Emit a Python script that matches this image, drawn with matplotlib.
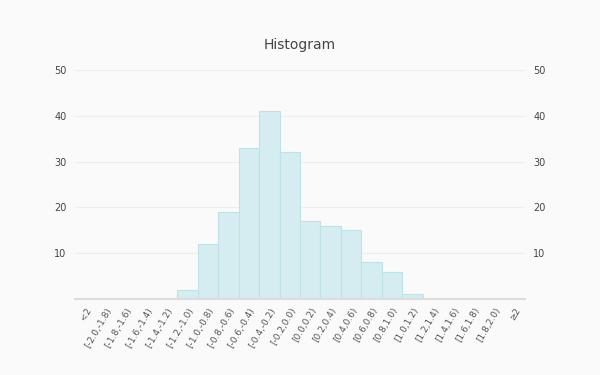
import numpy as np
import matplotlib.pyplot as plt

categories = ['<2', '[-2.0,-1.8)', '[-1.8,-1.6)', '[-1.6,-1.4)', '[-1.4,-1.2)',
              '[-1.2,-1.0)', '[-1.0,-0.8)', '[-0.8,-0.6)', '[-0.6,-0.4)',
              '[-0.4,-0.2)', '[-0.2,0.0)', '[0.0,0.2)', '[0.2,0.4)', '[0.4,0.6)',
              '[0.6,0.8)', '[0.8,1.0)', '[1.0,1.2)', '[1.2,1.4)', '[1.4,1.6)',
              '[1.6,1.8)', '[1.8,2.0)', '≥2']
counts = [0, 0, 0, 0, 0, 2, 12, 19, 33, 41, 32, 17, 16, 15, 8, 6, 1, 0, 0, 0, 0, 0]
yticks = [10, 20, 30, 40, 50]

bg = '#fafafa'
fig = plt.figure(figsize=(6, 3.75), dpi=100, facecolor=bg)
ax = fig.add_axes([0.125, 0.2027, 0.75, 0.6106], facecolor=bg)

x = np.arange(len(categories))
ax.bar(x, counts, width=1.0, color='#d5edf0', edgecolor='#bfe2e7', linewidth=0.8, zorder=2)

ax.set_xlim(-0.5, len(categories) - 0.5)
ax.set_ylim(0, 50)
ax.set_yticks(yticks)
ax.yaxis.grid(True, color='#eeeeee', linewidth=0.8, zorder=0)
ax.tick_params(axis='y', length=0, labelsize=7, labelcolor='#444444', pad=6,
               left=False, right=False, labelleft=True, labelright=True)

ax.set_xticks(x)
ax.set_xticklabels(categories, rotation=60, ha='right', rotation_mode='anchor',
                   fontsize=6.5, color='#555555')
ax.tick_params(axis='x', length=0, pad=5)

for s in ['top', 'left', 'right']:
    ax.spines[s].set_visible(False)
ax.spines['bottom'].set_color('#dddddd')
ax.spines['bottom'].set_linewidth(1.5)
ax.spines['bottom'].set_zorder(3)

fig.text(0.5, 0.88, 'Histogram', ha='center', va='center', fontsize=10, color='#444444')

fig.savefig('out.png', dpi=100, facecolor=bg)
